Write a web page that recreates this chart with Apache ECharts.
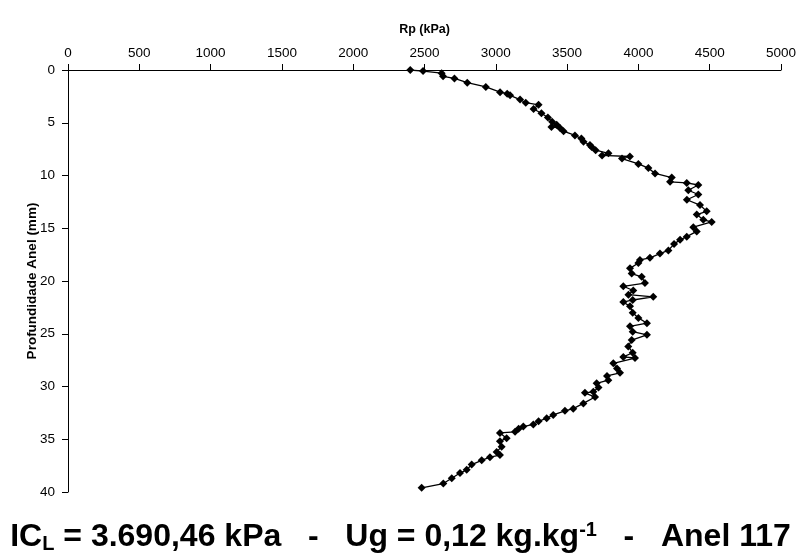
<!DOCTYPE html>
<html><head><meta charset="utf-8">
<script src="https://cdn.jsdelivr.net/npm/echarts@6/dist/echarts.min.js"></script>
<style>html,body{margin:0;padding:0;background:#fff}#c{width:801px;height:560px}</style>
</head><body><div id="c"></div>
<script>
const depth = [0.0,0.1,0.3,0.6,0.8,1.2,1.6,2.1,2.25,2.4,2.8,3.1,3.3,3.7,4.1,4.5,4.9,5.2,5.4,5.5,5.8,6.2,6.5,6.8,7.1,7.3,7.6,7.9,8.1,8.2,8.4,8.9,9.3,9.8,10.2,10.6,10.7,10.9,11.4,11.8,12.3,12.8,13.4,13.7,14.2,14.4,14.9,15.3,15.8,16.1,16.5,17.1,17.4,17.8,18.0,18.3,18.8,19.3,19.6,20.2,20.5,20.9,21.3,21.5,21.8,22.0,22.4,23.0,23.5,24.0,24.3,24.8,25.1,25.6,26.2,26.8,27.2,27.3,27.8,28.3,28.7,29.0,29.4,29.7,30.1,30.5,30.6,31.0,31.6,32.1,32.3,32.7,33.0,33.3,33.6,33.8,34.0,34.3,34.4,34.9,35.2,35.7,36.2,36.5,36.7,37.0,37.4,37.9,38.2,38.7,39.2,39.6];
const rp = [2400,2490,2620,2630,2710,2800,2930,3030,3080,3100,3170,3210,3300,3265,3320,3365,3395,3427,3390,3450,3475,3555,3600,3615,3660,3672,3700,3790,3745,3940,3885,4000,4070,4117,4234,4222,4339,4420,4350,4420,4340,4432,4479,4409,4455,4514,4385,4409,4339,4292,4250,4210,4151,4081,4011,4000,3941,3953,4023,4046,3894,3964,3930,4104,3960,3894,3941,3960,4000,4060,3941,3960,4060,3953,3929,3960,3894,3976,3824,3850,3871,3780,3789,3707,3720,3684,3625,3696,3614,3543,3485,3403,3357,3300,3263,3193,3160,3135,3029,3076,3029,3041,3006,3029,2959,2901,2831,2796,2749,2691,2632,2480];
const xTicks = [0,500,1000,1500,2000,2500,3000,3500,4000,4500,5000];
const yTicks = [0,5,10,15,20,25,30,35,40];
const xName = 'Rp (kPa)';
const yName = 'Profundidade Anel (mm)';

const chart = echarts.init(document.getElementById('c'));
const F = '"Liberation Sans", Arial, sans-serif';
chart.setOption({
  animation:false,
  backgroundColor:'#fff',
  title:{
    left:'center', top:515,
    text:'{m|IC}{sub|L}{m| = 3.690,46 kPa   -   Ug = 0,12 kg.kg}{sup|-1}{m|   -   Anel 117}',
    textStyle:{
      rich:{
        m:{fontFamily:F,fontWeight:'bold',fontSize:32,color:'#000'},
        sub:{fontFamily:F,fontWeight:'bold',fontSize:20,color:'#000',verticalAlign:'bottom',padding:[14,0,0,0]},
        sup:{fontFamily:F,fontWeight:'bold',fontSize:20,color:'#000',verticalAlign:'top',padding:[0,0,14,0]}
      }
    }
  },
  grid:{left:68,right:20,top:70,bottom:68},
  xAxis:{
    type:'value', position:'top', min:xTicks[0], max:xTicks[xTicks.length-1], interval:500,
    name:xName, nameLocation:'middle', nameGap:34,
    nameTextStyle:{fontFamily:F,fontWeight:'bold',fontSize:12.5,color:'#000'},
    axisLine:{show:true,lineStyle:{color:'#000',width:1}},
    axisTick:{show:true,inside:false,length:6,lineStyle:{color:'#000'}},
    axisLabel:{fontFamily:F,fontSize:13.5,color:'#000',margin:10,formatter:v=>String(v)},
    splitLine:{show:false}
  },
  yAxis:{
    type:'value', inverse:true, min:yTicks[0], max:yTicks[yTicks.length-1], interval:5,
    name:yName, nameLocation:'middle', nameGap:29, nameRotate:90, nameMoveOverlap:false,
    nameTextStyle:{fontFamily:F,fontWeight:'bold',fontSize:13.5,color:'#000'},
    axisLine:{show:true,lineStyle:{color:'#000',width:1}},
    axisTick:{show:true,inside:false,length:6,lineStyle:{color:'#000'}},
    axisLabel:{fontFamily:F,fontSize:13.5,color:'#000',margin:13,padding:[6,0,0,0],formatter:v=>String(v)},
    splitLine:{show:false}
  },
  series:[{
    type:'line',
    data: depth.map((d,i)=>[rp[i],d]),
    symbol:'diamond', symbolSize:8,
    itemStyle:{color:'#000'},
    lineStyle:{color:'#000',width:1.3}
  }]
});
</script></body></html>
